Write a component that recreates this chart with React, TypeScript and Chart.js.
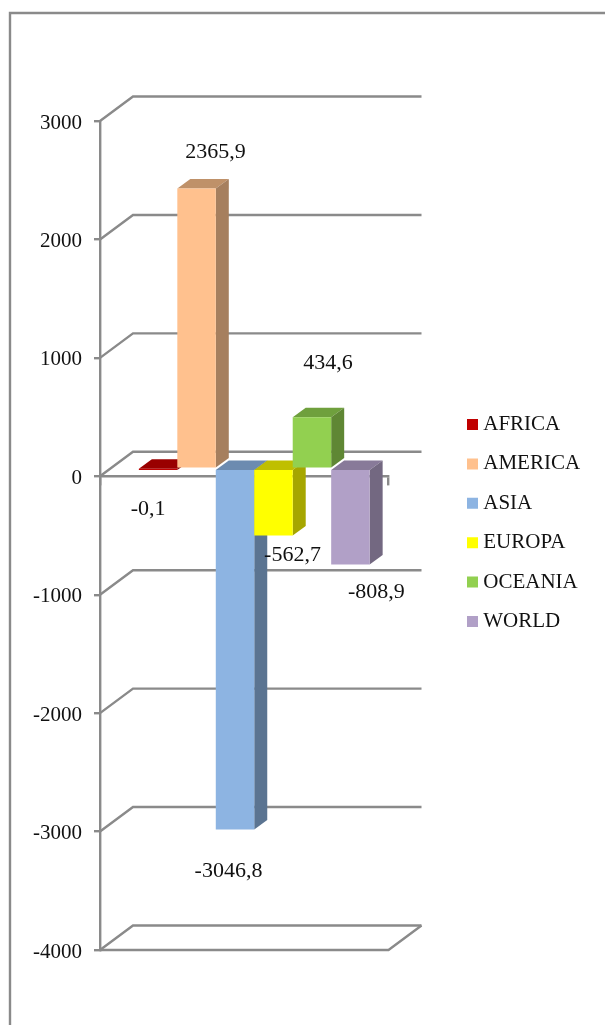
import React, { useEffect, useRef } from "react";
import { Chart, registerables } from "chart.js";

Chart.register(...registerables);

const regions = ["AFRICA", "AMERICA", "ASIA", "EUROPA", "OCEANIA", "WORLD"];
const balances = [-0.1, 2365.9, -3046.8, -562.7, 434.6, -808.9];
const frontColors = ["#C00000", "#FFC18E", "#8DB4E2", "#FFFF00", "#92D050", "#B1A0C7"];
const topColors = ["#990000", "#BF9169", "#6C8BB0", "#BFBF00", "#6FA03D", "#887A99"];
const sideColors = ["#800000", "#A67F5E", "#5B7491", "#A6A600", "#5F8734", "#736881"];

// Where each value label sits relative to the end of its bar.
const labelShiftX = [-10, 19, -6.5, 19, 16, 26];
const labelShiftY = [40, -36.5, 42, 19.5, -54.5, 27.5];

const FONT = '"Liberation Serif", serif';
const TEXT_SIZE = 21;
const LABEL_SIZE = 22;
const RULE = "#8A8A8A";
const RULE_WIDTH = 2.4;
const WALL_X = 33;
const WALL_Y = -24.5;
const BAR_PLANE_X = 10;
const BAR_PLANE_Y = -7.5;
const BAR_DEPTH_X = 13;
const BAR_DEPTH_Y = -9.5;
const LEGEND_GAP = 18.4;

const polygon = (ctx: CanvasRenderingContext2D, fill: string, pts: number[][]) => {
  ctx.fillStyle = fill;
  ctx.beginPath();
  pts.forEach(([x, y], i) => (i ? ctx.lineTo(x, y) : ctx.moveTo(x, y)));
  ctx.closePath();
  ctx.fill();
};

// Page frame, receding gridlines, floor, and the extruded bars drawn left to right.
const depthPlugin = {
  id: "depth",
  afterLayout(chart: any) {
    const legend = chart.legend;
    const w = legend.right - legend.left;
    legend.left = 472.25 - LEGEND_GAP;
    legend.right = legend.left + w;
    legend.top -= 12.5;
    legend.bottom -= 12.5;
  },
  beforeDraw(chart: any) {
    const { ctx } = chart;
    ctx.save();
    ctx.strokeStyle = RULE;
    ctx.lineWidth = RULE_WIDTH;
    ctx.beginPath();
    ctx.moveTo(10, 1025);
    ctx.lineTo(10, 13);
    ctx.lineTo(605, 13);
    ctx.stroke();
    ctx.restore();
  },
  beforeDatasetsDraw(chart: any) {
    const { ctx, chartArea, scales } = chart;
    const { left, right, bottom } = chartArea;
    ctx.save();
    ctx.strokeStyle = RULE;
    ctx.lineWidth = RULE_WIDTH;
    scales.y.ticks.forEach((tick: any) => {
      const y = scales.y.getPixelForValue(tick.value);
      ctx.beginPath();
      ctx.moveTo(left, y);
      ctx.lineTo(left + WALL_X, y + WALL_Y);
      ctx.lineTo(right + WALL_X, y + WALL_Y);
      ctx.stroke();
    });
    ctx.beginPath();
    ctx.moveTo(left, bottom);
    ctx.lineTo(right, bottom);
    ctx.lineTo(right + WALL_X, bottom + WALL_Y);
    ctx.stroke();

    ctx.translate(BAR_PLANE_X, BAR_PLANE_Y);
    chart.getSortedVisibleDatasetMetas().forEach((meta: any, i: number) => {
      meta.data.forEach((bar: any) => {
        const { x, y, base, width } = bar.getProps(["x", "y", "base", "width"], true);
        const l = x - width / 2;
        const r = x + width / 2;
        const top = Math.min(y, base);
        const low = Math.max(y, base);
        polygon(ctx, topColors[i], [
          [l, top],
          [r, top],
          [r + BAR_DEPTH_X, top + BAR_DEPTH_Y],
          [l + BAR_DEPTH_X, top + BAR_DEPTH_Y],
        ]);
        polygon(ctx, sideColors[i], [
          [r, top],
          [r + BAR_DEPTH_X, top + BAR_DEPTH_Y],
          [r + BAR_DEPTH_X, low + BAR_DEPTH_Y],
          [r, low],
        ]);
      });
      meta.controller.draw();
    });
    ctx.restore();

    ctx.save();
    ctx.font = `${LABEL_SIZE}px ${FONT}`;
    ctx.fillStyle = "#111111";
    ctx.textAlign = "center";
    ctx.textBaseline = "middle";
    chart.getSortedVisibleDatasetMetas().forEach((meta: any, i: number) => {
      const { x, y } = meta.data[0].getProps(["x", "y"], true);
      const text = balances[i].toFixed(1).replace(".", ",");
      ctx.fillText(text, x + BAR_PLANE_X + labelShiftX[i], y + BAR_PLANE_Y + labelShiftY[i]);
    });
    ctx.restore();
    return false;
  },
};

export default function App() {
  const canvasRef = useRef<HTMLCanvasElement>(null);

  useEffect(() => {
    const chart = new Chart(canvasRef.current as HTMLCanvasElement, {
      type: "bar",
      data: {
        labels: [""],
        datasets: regions.map((region, i) => ({
          label: region,
          data: [balances[i]],
          backgroundColor: frontColors[i],
          borderWidth: 0,
          categoryPercentage: 0.8,
          barPercentage: 1,
        })),
      },
      plugins: [depthPlugin],
      options: {
        responsive: false,
        animation: false,
        layout: { padding: { top: 121, bottom: 75, left: 0, right: 87 } },
        plugins: {
          tooltip: { enabled: false },
          title: { display: false },
          legend: {
            position: "right",
            labels: {
              font: { family: FONT, size: TEXT_SIZE },
              color: "#111111",
              usePointStyle: true,
              pointStyle: "rect",
              boxWidth: 0.5,
              boxHeight: 11,
              padding: LEGEND_GAP,
            },
          },
        },
        scales: {
          x: {
            position: { y: 0 },
            z: 1,
            ticks: { display: false },
            grid: { drawOnChartArea: false, color: RULE, lineWidth: RULE_WIDTH, tickLength: 8 },
            border: { color: RULE, width: RULE_WIDTH },
          },
          y: {
            min: -4000,
            max: 3000,
            afterFit: (scale: any) => {
              scale.width = 100;
            },
            ticks: {
              stepSize: 1000,
              padding: 12,
              labelOffset: 2,
              color: "#111111",
              font: { family: FONT, size: TEXT_SIZE },
              callback: (value: any) => String(value),
            },
            grid: { drawOnChartArea: false, color: RULE, lineWidth: RULE_WIDTH, tickLength: 6 },
            border: { color: RULE, width: RULE_WIDTH },
          },
        },
      },
    } as any);
    return () => chart.destroy();
  }, []);

  return (
    <canvas
      ref={canvasRef}
      width={605}
      height={1025}
      style={{ position: "absolute", left: 0, top: 0, display: "block" }}
    />
  );
}
